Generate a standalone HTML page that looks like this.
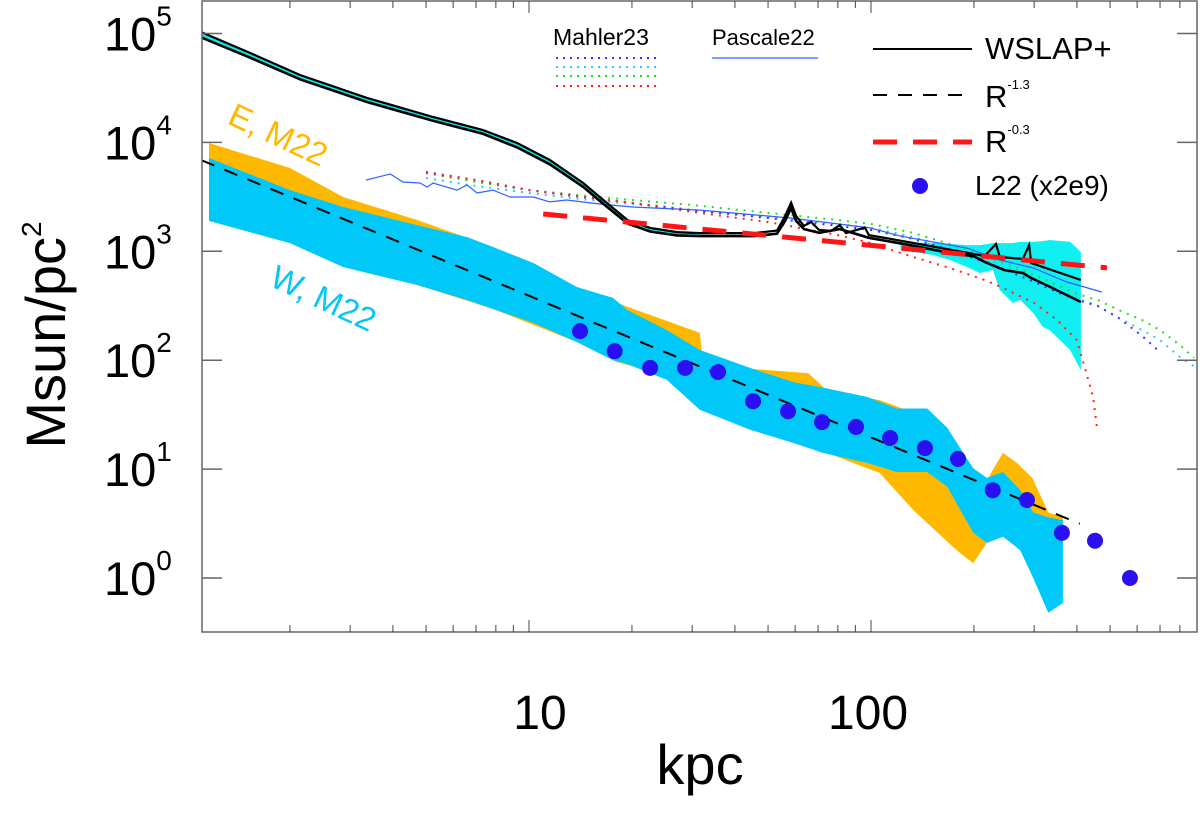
<!DOCTYPE html>
<html><head><meta charset="utf-8"><style>
html,body{margin:0;padding:0;background:#fff;}
svg{display:block;font-family:"Liberation Sans",Arial,sans-serif;}
</style></head><body>
<svg id="chart" width="1200" height="815" viewBox="0 0 1200 815" xmlns="http://www.w3.org/2000/svg">
<defs><clipPath id="clip"><rect x="202" y="1" width="995" height="631"/></clipPath></defs>
<g id="plot" clip-path="url(#clip)"></g>
<g id="axes"></g>
<g id="legend">
  <text x="553" y="45" font-size="23">Mahler23</text>
  <line x1="556" y1="58" x2="656" y2="58" stroke="#4030ff" stroke-width="2" stroke-dasharray="2 5"/>
  <line x1="556" y1="67" x2="656" y2="67" stroke="#30c8ff" stroke-width="2" stroke-dasharray="2 5"/>
  <line x1="556" y1="76" x2="656" y2="76" stroke="#20e020" stroke-width="2" stroke-dasharray="2 5"/>
  <line x1="556" y1="86" x2="656" y2="86" stroke="#ff2020" stroke-width="2" stroke-dasharray="2 5"/>
  <text x="712" y="45" font-size="22">Pascale22</text>
  <line x1="712" y1="58" x2="818" y2="58" stroke="#3060ff" stroke-width="1.2"/>
  <line x1="873" y1="49" x2="972" y2="49" stroke="#000" stroke-width="2"/>
  <text x="985" y="59" font-size="31">WSLAP+</text>
  <line x1="873" y1="95" x2="972" y2="95" stroke="#000" stroke-width="2" stroke-dasharray="14 11"/>
  <text x="985" y="107" font-size="31">R<tspan font-size="13" dy="-18">-1.3</tspan></text>
  <line x1="873" y1="142" x2="972" y2="142" stroke="#ff1515" stroke-width="5" stroke-dasharray="24 16"/>
  <text x="985" y="152" font-size="31">R<tspan font-size="13" dy="-18">-0.3</tspan></text>
  <circle cx="920" cy="186" r="8" fill="#2a10f0"/>
  <text x="975" y="195" font-size="28">L22 (x2e9)</text>
</g>
<text x="226" y="123" font-size="33" fill="#ffb800" transform="rotate(25 226 123)">E, M22</text>
<text x="268" y="285" font-size="33" fill="#00c8f8" transform="rotate(25 268 285)">W, M22</text>
<text x="700" y="784" font-size="56" text-anchor="middle">kpc</text>
<text x="65" y="335" font-size="56" text-anchor="middle" transform="rotate(-90 65 335)">Msun/pc<tspan font-size="28" dy="-24">2</tspan></text>
</svg>
<script>
// ---- data ----
const l22Kpc = [14.1,17.8,22.6,28.6,35.7,45.2,57.2,71.9,90.4,113.7,143.8,179.6,227,285.8,361.6,451.9,571.7];
const l22Val = [185,121,85,85,78,42,34,27,24.4,19.3,15.6,12.4,6.4,5.2,2.6,2.2,1.0];

const wKpc = [1.16,2.0,2.86,4.71,6.59,7.85,10.3,13.8,17.6,19.4,25.3,31.6,44.3,59.2,72.4,97.3,119,146,167,199,218,243,273,298,330,364];
const wUpper = [7190,3650,2550,1740,1350,1095,781,470,373,289,189,124,85,63,56,46,36,36,24,10.2,8.3,9.4,6.4,4.0,3.6,3.4];
const wLower = [1900,1190,718,490,357,295,220,147,100,92,66,35,23,17.4,14.1,11.4,9.4,9.4,6.9,2.6,2.1,2.4,1.8,1.0,0.48,0.59];

const eKpc = [1.16,2.0,2.86,4.71,7.85,13.8,18.1,31.6,32.3,65.5,74.3,106,133,178,199,218,243,267,296,330,364];
const eUpper = [9870,5820,3150,1940,1095,470,335,178,90,76,53,43,33,16.6,9.8,7.9,14.1,11.4,8.3,4.0,3.6];
const eLower = [1900,1190,718,490,295,147,96,59,35,23,14.1,9.2,4.2,1.8,1.37,2.1,2.4,2.0,1.8,1.8,2.2];

const wslapKpcA = [1.1,1.53,2.14,3.36,5.24,7.33,9.23,11.5,14.4,16.1,19.4,22.6,27.1,31.6,45.5,53.1,56.1,58.4,60.4,63.7,66.8,70.5,76.4,81.1,84.5,96,98.6,128,166,215,232,238,278,290,294,411];
const wslapValA = [103000,66200,41600,25600,17100,13000,9870,6890,4240,3150,1940,1640,1500,1470,1470,1550,2110,2800,2110,1710,1860,1570,1540,1740,1470,1650,1410,1220,1050,906,1170,887,850,1140,781,545];
const wslapKpcB = [1.1,1.53,2.14,3.36,5.24,7.33,9.23,11.5,14.4,16.1,19.4,22.6,27.1,31.6,45.5,53.1,56.1,58.4,60.4,63.7,70.5,81.1,98.6,128,166,200,215,245,278,294,330,411];
const wslapValB = [92000,60000,38000,23500,15800,12000,9000,6300,3900,2900,1800,1520,1400,1380,1380,1450,1900,2500,1900,1600,1480,1600,1330,1150,980,900,800,673,632,569,480,342];

const cyanKpc = [122,152,170,191,208,227,238,260,273,298,318,333,382,411];
const cyanUpper = [1220,1190,1170,1140,1140,1190,1190,1190,1220,1220,1240,1270,1220,986];
const cyanLower = [1030,925,832,718,632,673,441,335,357,271,202,189,124,81];

const pasKpc = [3.34,3.93,4.28,4.80,5.04,5.24,6.16,6.59,7.05,7.85,8.80,10.3,11.5,12.9,16.1,20.1,31.6,58.0,99.3,122,191,238,298,374,473];
const pasVal = [4520,5130,4330,4240,3890,4240,3650,4060,3430,3650,3150,3150,2840,2960,2720,2550,2390,2020,1640,1380,1070,832,703,523,423];

const mahKpc = [5,7,10,15,20,30,50,80,100,130,170,215,240,300,350,400,460,530,620,700,800,880];
const mahGreen = [5240,4330,3650,3220,2960,2660,2250,1940,1780,1500,1170,906,798,606,490,405,357,289,234,189,138,105];
const mahCyan = [4710,3980,3430,2960,2720,2390,2070,1780,1640,1380,1095,867,764,545,441,373,315,244,189,153,107,88];
const mahBlue = [5350,4520,3650,3090,2780,2390,2020,1710,1570,1320,1030,798,703,523,423,357,315,244,167,119];
const mahRedKpc = [5,7,10,15,20,30,50,80,100,130,170,215,240,300,350,400,446,458];
const mahRed = [5240,4520,3650,3090,2780,2300,1860,1410,1190,906,703,545,470,335,234,153,46,24];

const r13Kpc = [1.1,408];
const r13Amp = 7790;
const r03Kpc = [11.0,490];
const r03Amp = 2200*Math.pow(11.0,0.3);

const xTickMajor = [10,100];
const xTickLabels = ["10","100"];
const yTickExp = [0,1,2,3,4,5];

// ---- axes ----
const X0=529, XD=342, Y0=578, YD=108.9;
const L=202, R=1197, T=1, B=632;
function xs(k){return X0+(Math.log10(k)-1)*XD;}
function ys(v){return Y0-Math.log10(v)*YD;}
const NS="http://www.w3.org/2000/svg";
const plot=document.getElementById('plot');
const axes=document.getElementById('axes');
function mk(tag,attrs,parent){const e=document.createElementNS(NS,tag);for(const k in attrs)e.setAttribute(k,attrs[k]);parent.appendChild(e);return e;}
function pts(ks,vs){return ks.map((k,i)=>xs(k).toFixed(1)+','+ys(vs[i]).toFixed(1)).join(' ');}
function band(ks,up,lo){const a=ks.map((k,i)=>xs(k).toFixed(1)+','+ys(up[i]).toFixed(1));const b=ks.map((k,i)=>xs(k).toFixed(1)+','+ys(lo[i]).toFixed(1)).reverse();return a.concat(b).join(' ');}

let e;
e=mk('polygon',{points:band(eKpc,eUpper,eLower),fill:'#ffb800'},plot);


e=mk('polygon',{points:band(wKpc,wUpper,wLower),fill:'#00c8f8'},plot);


e=mk('polygon',{points:band(cyanKpc,cyanUpper,cyanLower),fill:'#10f0f0'},plot);


const nIn=14;
e=mk('polygon',{points:band(wslapKpcA.slice(0,nIn),wslapValA.slice(0,nIn),wslapValB.slice(0,nIn)),fill:'#10e8e8'},plot);



e=mk('polyline',{points:pts(r13Kpc,r13Kpc.map(k=>r13Amp*Math.pow(k,-1.3))),fill:'none',stroke:'#000','stroke-width':2,'stroke-dasharray':'14 11'},plot);



[[mahKpc,mahGreen,'#20e020','mahler-green'],[mahKpc,mahCyan,'#30c8ff','mahler-cyan'],[mahKpc.slice(0,mahBlue.length),mahBlue,'#4030ff','mahler-blue'],[mahRedKpc,mahRed,'#ff2020','mahler-red']].forEach(s=>{
  const el=mk('polyline',{points:pts(s[0],s[1]),fill:'none',stroke:s[2],'stroke-width':2,'stroke-dasharray':'2 6'},plot);
  
  
});
e=mk('polyline',{points:pts(pasKpc,pasVal),fill:'none',stroke:'#3060ff','stroke-width':1.2},plot);


e=mk('polyline',{points:pts(wslapKpcA,wslapValA),fill:'none',stroke:'#000','stroke-width':2.2},plot);


e=mk('polyline',{points:pts(wslapKpcB,wslapValB),fill:'none',stroke:'#000','stroke-width':2.6},plot);


e=mk('polyline',{points:pts(r03Kpc,r03Kpc.map(k=>r03Amp*Math.pow(k,-0.3))),fill:'none',stroke:'#ff1515','stroke-width':5,'stroke-dasharray':'24 16'},plot);


l22Kpc.forEach((k,i)=>{
  const c=mk('circle',{cx:xs(k),cy:ys(l22Val[i]),r:8,fill:'#2a10f0'},plot);
  
  
});

e=mk('rect',{x:L,y:T,width:R-L,height:B-T,fill:'none',stroke:'#666','stroke-width':1.5},axes);


for(let d=1;d<=100;d*=10){for(let m=1;m<10;m++){const k=d*m;const x=xs(k);if(x<L||x>R)continue;const len=(m===1)?12:7;
  let t=mk('line',{x1:x,y1:B,x2:x,y2:B-len,stroke:'#444','stroke-width':1},axes);
  
  
  t=mk('line',{x1:x,y1:T,x2:x,y2:T+len,stroke:'#444','stroke-width':1},axes);
  
  
}}
const xLabelX=[540,868];
xTickMajor.forEach((k,i)=>{
  const t=mk('text',{x:xLabelX[i],y:729,'font-size':48,'text-anchor':'middle'},axes);
  t.textContent=xTickLabels[i];
  
  
});
yTickExp.forEach(p=>{
  const y=ys(Math.pow(10,p));
  let t=mk('line',{x1:L,y1:y,x2:L+20,y2:y,stroke:'#666','stroke-width':1.5},axes);
  
  
  t=mk('line',{x1:R-20,y1:y,x2:R,y2:y,stroke:'#666','stroke-width':1.5},axes);
  
  
  const lab=mk('text',{x:104,y:y+17,'font-size':47},axes);
  
  
  lab.appendChild(document.createTextNode('10'));
  const sup=mk('tspan',{'font-size':28,dy:-25},lab);
  sup.textContent=String(p);
});
</script>
</body></html>
